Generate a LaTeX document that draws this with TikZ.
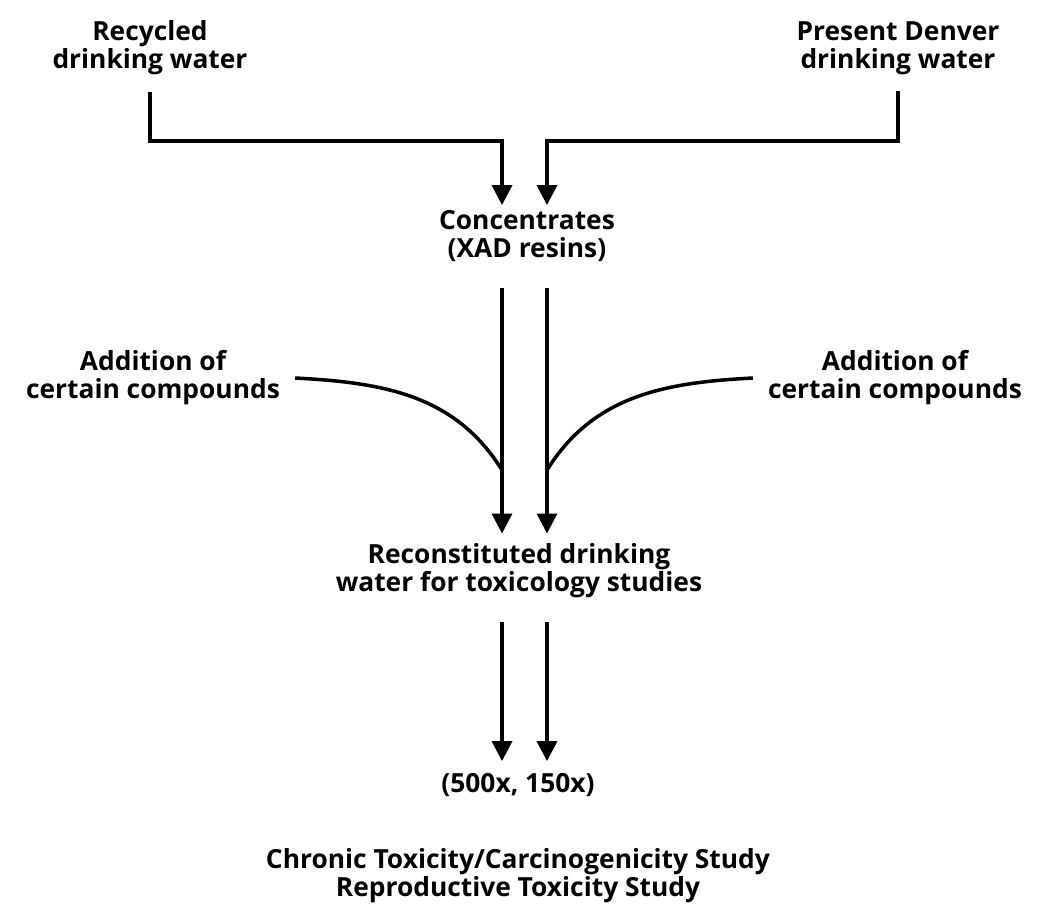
\documentclass[tikz,border=0pt]{standalone}
\usepackage{fontspec}
\setmainfont{Open Sans}
\usetikzlibrary{arrows.meta}
\begin{document}
\begin{tikzpicture}[x=0.02cm,y=0.02cm,>={Triangle[width=0.4cm,length=0.4cm]},line width=2pt]
    \tikzstyle{blurb}=[align=center, font=\bfseries\fontsize{15}{16}\selectfont, inner sep=2pt]
    \useasboundingbox (0,0) rectangle (1045,-910);
    \node[blurb] (recycled) at (150,-48) {Recycled\\drinking water};
    \node[blurb] (denver) at (898,-48) {Present Denver\\drinking water};
    \node[blurb] (conc) at (527,-236) {Concentrates\\(XAD resins)};
    \node[blurb] (addl) at (153,-378) {Addition of\\certain compounds};
    \node[blurb] (addr) at (895,-378) {Addition of\\certain compounds};
    \node[blurb] (recon) at (519,-571) {Reconstituted drinking\\water for toxicology studies};
    \node[blurb] (ratio) at (518,-785) {(500x, 150x)};
    \node[blurb] (studies) at (518,-876) {Chronic Toxicity/Carcinogenicity Study\\Reproductive Toxicity Study};
    % lanes and bends
    \coordinate (lanel) at (502,0);
    \coordinate (laner) at (547,0);
    \coordinate (bendl) at (150,-141);
    \coordinate (bendr) at (898,-141);
    \coordinate (joinl) at (502,-470);
    \coordinate (joinr) at (547,-470);
    \draw[->] ([yshift=-0.22cm]recycled.south) -- (bendl) -| (conc.north -| lanel);
    \draw[->] ([yshift=-0.22cm]denver.south) -- (bendr) -| (conc.north -| laner);
    \draw[->] ([yshift=-0.42cm]conc.south -| lanel) -- ([yshift=0.1cm]recon.north -| lanel);
    \draw[->] ([yshift=-0.42cm]conc.south -| laner) -- ([yshift=0.1cm]recon.north -| laner);
    \draw ([xshift=0.2cm]addl.east) to[out=-3,in=122] (joinl);
    \draw ([xshift=-0.2cm]addr.west) to[out=183,in=58] (joinr);
    \draw[->] ([yshift=-0.36cm]recon.south -| lanel) -- ([yshift=0.14cm]ratio.north -| lanel);
    \draw[->] ([yshift=-0.36cm]recon.south -| laner) -- ([yshift=0.14cm]ratio.north -| laner);
\end{tikzpicture}
\end{document}
